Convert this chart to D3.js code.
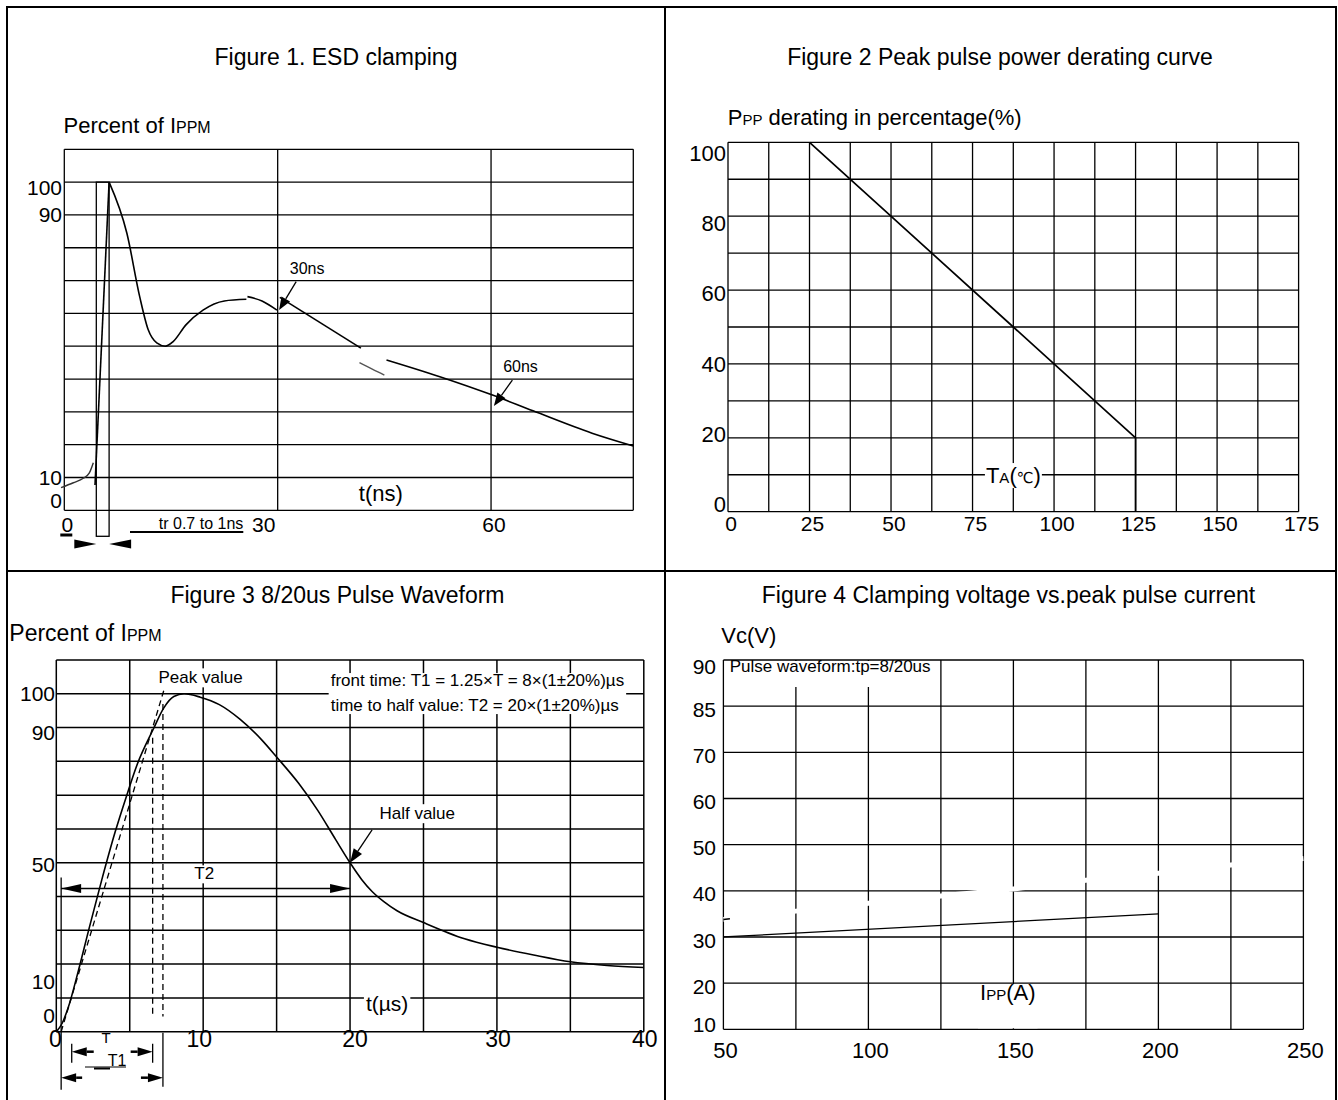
<!DOCTYPE html>
<html>
<head>
<meta charset="utf-8">
<script src="https://cdn.jsdelivr.net/npm/d3@7"></script>
<style>
  body { margin: 0; background: #fff; }
  text { fill: #000; }
</style>
</head>
<body>
<div id="chart"></div>
<script>
// ---- Figure 1: ESD clamping (t in ns, % of Ippm) ----
var esdTicksY = [100, 90, 10, 0];
var esdTicksX = [0, 30, 60];
var esdFoot = [[-0.46, 6.9], [1.27, 8.4], [2.67, 9.75], [3.5, 11.3], [4.08, 14.5]];
var esdRise = [[4.32, 7.7], [6.3, 100]];
var esdMain = [[6.3, 100], [8.8, 84.4], [10.6, 65.1], [11.8, 55], [13, 51], [14.2, 50], [15.3, 51.4],
  [17.1, 56.5], [19.5, 61], [22.5, 63.8], [25.6, 64.3]];
var esdHump = [[25.75, 65.1], [27.8, 63.8], [29.9, 61]];
var esdTail1 = [[30.3, 64.9], [41.7, 49.4]];
var esdBreak = [[41.5, 45], [43.3, 43], [45, 41.2]];
var esdTail2 = [[45.3, 45.8], [52.8, 40.7], [60.2, 35.1], [65.9, 30.3], [74.2, 23.5], [80, 19.6]];
var esdTr = [4.5, 6.3];
var esdNotes = [
  { text: "30ns", at: [31.7, 73.7], from: [32.6, 69.7], to: [30.2, 61] },
  { text: "60ns", at: [61.7, 43.8], from: [63, 39.7], to: [60.4, 31.8] }
];

// ---- Figure 2: peak pulse power derating (TA in degC, %) ----
var deratingTemp = [25, 125, 125];
var deratingPct = [100, 20, 0];
var deratingTicksX = [0, 25, 50, 75, 100, 125, 150, 175];
var deratingTicksY = [0, 20, 40, 60, 80, 100];

// ---- Figure 3: 8/20us pulse waveform (t in us, % of Ippm) ----
var pulseTime = [0, 0.4, 0.8, 1.5, 2.2, 3.1, 4, 4.8, 5.5, 6.6, 7.3, 8, 8.7, 9.8, 11.1, 12.5, 14, 15, 16.5,
  17.8, 19, 20, 20.8, 21.5, 22.3, 23.2, 25, 27.8, 30, 32.5, 35, 37.5, 40];
var pulsePct = [0, 2.5, 7, 18, 30, 45, 59, 70, 79, 89.5, 95.7, 99.2, 100, 99, 96.8, 92.5, 86.3, 81.3, 73.5,
  65.5, 57, 50, 45, 41.5, 38.5, 35.8, 32.3, 27.5, 25, 22.7, 20.7, 19.6, 19];
var pulseTicksY = [100, 90, 50, 10, 0];
var pulseTicksX = [0, 10, 20, 30, 40];
var frontO1 = 0.33, front10 = 1.05, front90 = 6.56, front100 = 7.26;
var halfTime = 20, halfPct = 50, t2Level = 42.4;

// ---- Figure 4: clamping voltage vs peak pulse current ----
var clampIpp = [50, 200];
var clampVc = [30, 35];
var hiddenIpp = [50, 75, 100, 125, 150, 175, 200, 225, 250];
var hiddenVc = [33.8, 35.6, 37.3, 38.9, 40.4, 42.3, 43.8, 45.6, 47];
var clampTicksY = [10, 20, 30, 40, 50, 60, 70, 80, 90];
var clampTickLabels = ["10", "20", "30", "40", "50", "60", "70", "85", "90"];
var clampTicksX = [50, 100, 150, 200, 250];

var svg = d3.select("#chart").append("svg")
  .attr("width", 1338)
  .attr("height", 1100)
  .style("font-family", '"Liberation Sans", Arial, "DejaVu Sans", sans-serif');

// outer table
var frame = svg.append("g").attr("stroke", "#000").attr("stroke-width", 2).attr("fill", "none");
frame.append("path").attr("d", "M7,1110V7H1336V1110");
frame.append("line").attr("x1", 665).attr("y1", 7).attr("x2", 665).attr("y2", 1110);
frame.append("line").attr("x1", 7).attr("y1", 571).attr("x2", 1336).attr("y2", 571);

// text helper: y is the visual centre of the caps
function txt(g, x, y, parts, size, anchor) {
  var t = g.append("text")
    .attr("x", x)
    .attr("y", y + size * 0.36)
    .attr("font-size", size)
    .attr("text-anchor", anchor || "start");
  if (typeof parts === "string") {
    t.text(parts);
  } else {
    parts.forEach(function(p) {
      var s = t.append("tspan").text(p[0]);
      if (p[1]) s.attr("font-size", p[1]);
    });
  }
  return t;
}

// white box behind a label (the original hides grid lines under its labels)
function backing(g, t, pad) {
  var b = t.node().getBBox();
  pad = pad || [0, 2, 0, 2];
  g.insert("rect", function() { return t.node(); })
    .attr("x", b.x - pad[3])
    .attr("y", b.y - pad[0])
    .attr("width", b.width + pad[1] + pad[3])
    .attr("height", b.height + pad[0] + pad[2])
    .attr("fill", "#fff");
}

// filled arrow head at (x2,y2), optional shaft from (x1,y1)
function arrow(g, x1, y1, x2, y2, len, half, shaft) {
  var a = Math.atan2(y2 - y1, x2 - x1);
  var bx = x2 - len * Math.cos(a), by = y2 - len * Math.sin(a);
  if (shaft) {
    g.append("line")
      .attr("x1", x1).attr("y1", y1).attr("x2", bx).attr("y2", by)
      .attr("stroke", "#000").attr("stroke-width", shaft);
  }
  g.append("path")
    .attr("d", "M" + x2 + "," + y2 +
      "L" + (bx + half * Math.sin(a)) + "," + (by - half * Math.cos(a)) +
      "L" + (bx - half * Math.sin(a)) + "," + (by + half * Math.cos(a)) + "Z")
    .attr("fill", "#000");
}

function grid(g, x, y, xs, ys, w) {
  var gg = g.append("g").attr("stroke", "#000").attr("stroke-width", w || 1.3);
  gg.selectAll(".v").data(xs).enter().append("line")
    .attr("x1", function(d) { return x(d); }).attr("x2", function(d) { return x(d); })
    .attr("y1", y.range()[0]).attr("y2", y.range()[1]);
  gg.selectAll(".h").data(ys).enter().append("line")
    .attr("y1", function(d) { return y(d); }).attr("y2", function(d) { return y(d); })
    .attr("x1", x.range()[0]).attr("x2", x.range()[1]);
}

function pairs(xs, ys) {
  return xs.map(function(d, i) { return [d, ys[i]]; });
}

// ================= Figure 1 =================
(function() {
  var g = svg.append("g");
  var x = d3.scaleLinear().domain([0, 80]).range([64.3, 633.3]);
  var y = d3.scaleLinear().domain([0, 110]).range([510.3, 149.3]);

  txt(g, 336, 57, "Figure 1. ESD clamping", 23, "middle");
  txt(g, 63.5, 125, [["Percent of I"], ["PPM", 16]], 22);

  grid(g, x, y, [0, 30, 60, 80], d3.range(0, 111, 10));

  esdTicksY.forEach(function(v) {
    var dy = v === 0 ? -10 : (v === 100 ? 5 : 0);
    txt(g, 62, y(v) + dy, String(v), 21, "end");
  });
  esdTicksX.forEach(function(v) {
    var dx = v === 30 ? -14 : 3;
    txt(g, x(v) + dx, 524, String(v), 21, "middle");
  });
  // underline under the 0
  g.append("line").attr("x1", x(0) - 4).attr("x2", x(0) + 8).attr("y1", 535).attr("y2", 535)
    .attr("stroke", "#000").attr("stroke-width", 3);

  txt(g, x(44.5), y(5.2), "t(ns)", 22, "middle");

  // rise-time window
  g.append("rect")
    .attr("x", x(esdTr[0])).attr("y", y(100))
    .attr("width", x(esdTr[1]) - x(esdTr[0])).attr("height", y(0) + 26 - y(100))
    .attr("fill", "none").attr("stroke", "#000").attr("stroke-width", 1.3);
  arrow(g, x(esdTr[0]) - 22, 544, x(esdTr[0]), 544, 22, 4.5, 0);
  arrow(g, x(esdTr[1]) + 22, 544, x(esdTr[1]), 544, 22, 4.5, 0);

  txt(g, 243.3, 523, "tr 0.7 to 1ns", 16, "end");
  g.append("line").attr("x1", 130).attr("x2", 243.3).attr("y1", 532).attr("y2", 532)
    .attr("stroke", "#000").attr("stroke-width", 2);

  var smooth = d3.line().x(function(d) { return x(d[0]); }).y(function(d) { return y(d[1]); })
    .curve(d3.curveMonotoneX);
  var straight = d3.line().x(function(d) { return x(d[0]); }).y(function(d) { return y(d[1]); });

  g.append("path").attr("d", smooth(esdFoot)).attr("fill", "none").attr("stroke", "#333").attr("stroke-width", 1.4);
  g.append("path").attr("d", straight(esdRise)).attr("fill", "none").attr("stroke", "#000").attr("stroke-width", 1.6);
  g.append("path").attr("d", smooth(esdMain)).attr("fill", "none").attr("stroke", "#000").attr("stroke-width", 1.6);
  g.append("path").attr("d", smooth(esdHump)).attr("fill", "none").attr("stroke", "#000").attr("stroke-width", 1.6);
  g.append("path").attr("d", straight(esdTail1)).attr("fill", "none").attr("stroke", "#000").attr("stroke-width", 1.6);
  g.append("path").attr("d", smooth(esdBreak)).attr("fill", "none").attr("stroke", "#555").attr("stroke-width", 1.4);
  g.append("path").attr("d", smooth(esdTail2)).attr("fill", "none").attr("stroke", "#000").attr("stroke-width", 1.6);

  esdNotes.forEach(function(n) {
    txt(g, x(n.at[0]), y(n.at[1]), n.text, 16);
    arrow(g, x(n.from[0]), y(n.from[1]), x(n.to[0]), y(n.to[1]), 13, 5, 1.3);
  });
})();

// ================= Figure 2 =================
(function() {
  var g = svg.append("g");
  var x = d3.scaleLinear().domain([0, 175]).range([728, 1298.6]);
  var y = d3.scaleLinear().domain([0, 100]).range([511.7, 142.3]);
  var yLab = d3.scaleLinear().domain([0, 100]).range([504, 153]);

  txt(g, 1000, 57, "Figure 2 Peak pulse power derating curve", 23, "middle");
  txt(g, 727.7, 116.7, [["P"], ["PP", 15], [" derating in percentage(%)"]], 22);

  grid(g, x, y, d3.range(0, 176, 12.5), d3.range(0, 101, 10));

  deratingTicksY.forEach(function(v) {
    txt(g, 726, yLab(v), String(v), 22, "end");
  });
  deratingTicksX.forEach(function(v) {
    txt(g, x(v) + 3, 523.3, String(v), 21, "middle");
  });

  var ta = txt(g, x(79.1), y(9.9), [["T"], ["A", 15], ["("], ["\u2103", 15], [")"]], 22);
  backing(g, ta, [0, 1, 0, 1]);

  var line = d3.line().x(function(d) { return x(d[0]); }).y(function(d) { return y(d[1]); });
  g.append("path").attr("d", line(pairs(deratingTemp, deratingPct)))
    .attr("fill", "none").attr("stroke", "#000").attr("stroke-width", 1.7);
})();

// ================= Figure 3 =================
(function() {
  var g = svg.append("g");
  var x = d3.scaleLinear().domain([0, 40]).range([56.3, 643.8]);
  var y = d3.scaleLinear().domain([0, 110]).range([1031.7, 660]);

  txt(g, 337.5, 595, "Figure 3 8/20us Pulse Waveform", 23, "middle");
  txt(g, 9.3, 633, [["Percent of I"], ["PPM", 16]], 23);

  grid(g, x, y, d3.range(0, 41, 5), d3.range(0, 111, 10), 1.5);

  pulseTicksY.forEach(function(v) {
    var dy = v === 90 ? 5 : (v === 50 ? 2 : (v <= 10 ? -16 : 0));
    txt(g, 55, y(v) + dy, String(v), 21, "end");
  });
  pulseTicksX.forEach(function(v) {
    var dx = v === 0 ? -1 : (v === 10 ? -4 : (v === 20 ? 5 : 1));
    txt(g, x(v) + dx, 1038.3, String(v), 23, "middle");
  });

  var peak = txt(g, x(6.96), y(104.9), "Peak value", 17);
  backing(g, peak);
  var r1 = txt(g, x(18.68), y(104.1), "front time: T1 = 1.25\u00d7T = 8\u00d7(1\u00b120%)\u00b5s", 17);
  var r2 = txt(g, x(18.68), y(96.7), "time to half value: T2 = 20\u00d7(1\u00b120%)\u00b5s", 17);
  var b1 = r1.node().getBBox(), b2 = r2.node().getBBox();
  g.insert("rect", function() { return r1.node(); })
    .attr("x", b1.x - 2).attr("y", b1.y + 2)
    .attr("width", Math.max(b1.width, b2.width) + 4)
    .attr("height", b2.y + b2.height - b1.y - 3)
    .attr("fill", "#fff");
  var half = txt(g, x(22), y(64.7), "Half value", 17);
  backing(g, half);
  var t2 = txt(g, x(10.07), y(46.9), "T2", 17, "middle");
  backing(g, t2, [-1, 2, 0, 2]);
  var tu = txt(g, x(21.08), y(8.5), "t(\u00b5s)", 21);
  backing(g, tu);

  // waveform
  var smooth = d3.line().x(function(d) { return x(d[0]); }).y(function(d) { return y(d[1]); })
    .curve(d3.curveMonotoneX);
  g.append("path").attr("d", smooth(pairs(pulseTime, pulsePct)))
    .attr("fill", "none").attr("stroke", "#000").attr("stroke-width", 1.6);

  // front-time construction line through 10% / 90%
  var slope = 90 / (front90 - frontO1);
  var dash = g.append("g").attr("stroke", "#000").attr("stroke-width", 1.3).attr("stroke-dasharray", "6,4");
  dash.append("line")
    .attr("x1", x(frontO1)).attr("y1", y(0))
    .attr("x2", x(frontO1 + 102 / slope)).attr("y2", y(102));
  dash.append("line")
    .attr("x1", x(front90)).attr("y1", y(87)).attr("x2", x(front90)).attr("y2", y(4.5));
  dash.append("line")
    .attr("x1", x(front100)).attr("y1", y(97)).attr("x2", x(front100)).attr("y2", y(4.5));

  var axisY = y(0);
  var solid = g.append("g").attr("stroke", "#000").attr("stroke-width", 1.3);
  solid.append("line").attr("x1", x(frontO1)).attr("x2", x(frontO1)).attr("y1", y(t2Level) - 11).attr("y2", axisY + 58);
  solid.append("line").attr("x1", x(front100)).attr("x2", x(front100)).attr("y1", axisY + 1).attr("y2", axisY + 55);
  solid.append("line").attr("x1", x(front10)).attr("x2", x(front10)).attr("y1", axisY + 12).attr("y2", axisY + 31);
  solid.append("line").attr("x1", x(front90)).attr("x2", x(front90)).attr("y1", axisY + 12).attr("y2", axisY + 31);

  // T, T1, T2 dimension arrows
  arrow(g, x(front10) + 22, axisY + 20, x(front10), axisY + 20, 15, 4.5, 2.5);
  arrow(g, x(front90) - 22, axisY + 20, x(front90), axisY + 20, 15, 4.5, 2.5);
  arrow(g, x(frontO1) + 21, axisY + 46, x(frontO1), axisY + 46, 15, 4.5, 2.5);
  arrow(g, x(front100) - 22, axisY + 46, x(front100), axisY + 46, 15, 4.5, 2.5);
  g.append("line").attr("x1", x(frontO1)).attr("x2", x(halfTime)).attr("y1", y(t2Level)).attr("y2", y(t2Level))
    .attr("stroke", "#000").attr("stroke-width", 1.5);
  arrow(g, x(frontO1) + 21, y(t2Level), x(frontO1), y(t2Level), 20, 4.5, 0);
  arrow(g, x(halfTime) - 21, y(t2Level), x(halfTime), y(t2Level), 20, 4.5, 0);

  txt(g, 106, 1038, "T", 15, "middle");
  txt(g, 117, 1060, "T1", 16, "middle");
  g.append("line").attr("x1", 85).attr("x2", 126).attr("y1", 1067).attr("y2", 1067)
    .attr("stroke", "#000").attr("stroke-width", 1.2);
  g.append("line").attr("x1", 94).attr("x2", 110).attr("y1", 1068.5).attr("y2", 1068.5)
    .attr("stroke", "#000").attr("stroke-width", 2);

  // half value pointer
  arrow(g, x(21.5), y(59.7), x(halfTime), y(halfPct), 14, 5, 1.3);
})();

// ================= Figure 4 =================
(function() {
  var g = svg.append("g");
  var x = d3.scaleLinear().domain([50, 250]).range([723.4, 1303.4]);
  var y = d3.scaleLinear().domain([10, 90]).range([1029.3, 660]);

  txt(g, 1008.5, 595, "Figure 4 Clamping voltage vs.peak pulse current", 23, "middle");
  txt(g, 721.3, 635, "Vc(V)", 22);

  grid(g, x, y, d3.range(50, 251, 25), clampTicksY);

  clampTicksY.forEach(function(v, i) {
    var dy = v === 90 ? 6 : (v === 10 ? -5 : 3);
    txt(g, 716, y(v) + dy, clampTickLabels[i], 21, "end");
  });
  clampTicksX.forEach(function(v) {
    txt(g, x(v) + 2, 1050, String(v), 22, "middle");
  });

  var pw = txt(g, x(52.2), y(88.7), "Pulse waveform:tp=8/20us", 17);
  var bp = pw.node().getBBox();
  g.insert("rect", function() { return pw.node(); })
    .attr("x", x(50) + 1.5).attr("y", y(90) + 1)
    .attr("width", bp.x + bp.width + 4 - x(50) - 1.5).attr("height", 26)
    .attr("fill", "#fff");

  var ipp = txt(g, x(138.5), y(18.1), [["I"], ["PP", 15], ["(A)"]], 22);
  var bi = ipp.node().getBBox();
  g.insert("rect", function() { return ipp.node(); })
    .attr("x", bi.x - 2).attr("y", y(20) + 1)
    .attr("width", bi.width + 4).attr("height", y(10) - y(20) - 2)
    .attr("fill", "#fff");

  var line = d3.line().x(function(d) { return x(d[0]); }).y(function(d) { return y(d[1]); });
  var smooth = d3.line().x(function(d) { return x(d[0]); }).y(function(d) { return y(d[1]); })
    .curve(d3.curveMonotoneX);

  // second trace is printed in white in the original, only visible as gaps in the grid
  var hidden = pairs(hiddenIpp, hiddenVc);
  g.append("path").attr("d", smooth(hidden))
    .attr("fill", "none").attr("stroke", "#fff").attr("stroke-width", 5);
  var f = d3.interpolateArray(hidden[0], hidden[1]);
  g.append("path").attr("d", line([hidden[0], f(0.09)]))
    .attr("fill", "none").attr("stroke", "#000").attr("stroke-width", 1.5);

  g.append("path").attr("d", line(pairs(clampIpp, clampVc)))
    .attr("fill", "none").attr("stroke", "#000").attr("stroke-width", 1.3);
})();
</script>
</body>
</html>
